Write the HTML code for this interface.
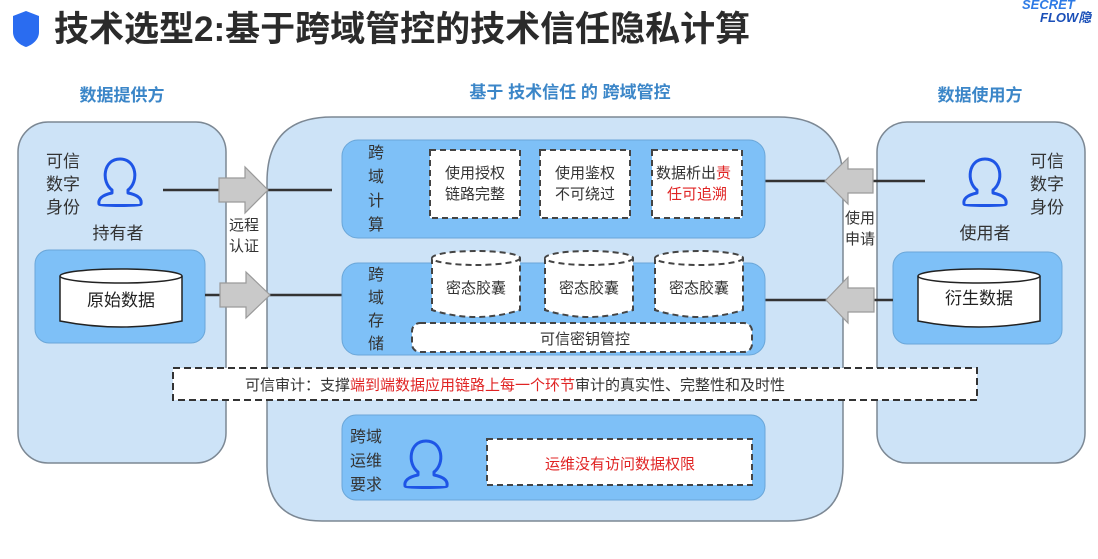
<!DOCTYPE html>
<html><head><meta charset="utf-8"><style>
html,body{margin:0;padding:0;background:#fff;width:1098px;height:559px;overflow:hidden}
svg text{font-family:"Liberation Sans","Noto Sans CJK SC",sans-serif}
</style></head><body>
<svg width="1098" height="559" viewBox="0 0 1098 559" xmlns="http://www.w3.org/2000/svg">
<defs>
<g id="person"><path d="M-8 7 C-19 -1 -17 -24 0 -24 C17 -24 19 -1 8 7 L8 10 C18 12 22 16 21 21 C21 23 -21 23 -21 21 C-22 16 -18 12 -8 10 Z" fill="none" stroke="#1e55e6" stroke-width="3" stroke-linejoin="round"/></g>
</defs>
<!-- title -->
<path d="M13 16 L26 11 L39 16 L39 32 C39 40 32 45 26 47 C20 45 13 40 13 32 Z" fill="#2a6cf0"/>
<text x="54" y="41" font-size="35" fill="#2b2b2b" font-weight="bold">技术选型2:基于跨域管控的技术信任隐私计算</text>
<text x="1022" y="9" font-size="13" fill="#2e7be6" font-style="italic" font-weight="bold">SECRET</text>
<text x="1040" y="22" font-size="13" fill="#1a4fb8" font-style="italic" font-weight="bold">FLOW隐</text>
<!-- headers -->
<text x="122" y="101" font-size="17" fill="#3b86c8" text-anchor="middle" font-weight="bold">数据提供方</text>
<text x="570" y="98" font-size="17" fill="#3b86c8" text-anchor="middle" font-weight="bold">基于 技术信任 的 跨域管控</text>
<text x="980" y="101" font-size="17" fill="#3b86c8" text-anchor="middle" font-weight="bold">数据使用方</text>
<!-- panels -->
<rect x="18" y="122" width="208" height="341" rx="30" fill="#cde3f7" stroke="#7c8894" stroke-width="1.5"/>
<rect x="877" y="122" width="208" height="341" rx="30" fill="#cde3f7" stroke="#7c8894" stroke-width="1.5"/>
<path d="M267 182 Q267 117 332 117 L778 117 Q843 117 843 182 L843 466 Q843 521 788 521 L322 521 Q267 521 267 466 Z" fill="#cde3f7" stroke="#7c8894" stroke-width="1.5"/>
<!-- left content -->
<text font-size="17" fill="#333"><tspan x="46" y="167">可信</tspan><tspan x="46" y="190">数字</tspan><tspan x="46" y="213">身份</tspan></text>
<use href="#person" x="120" y="183"/>
<text x="118" y="239" font-size="17" fill="#333" text-anchor="middle">持有者</text>
<rect x="35" y="250" width="170" height="93" rx="14" fill="#7ec0f7" stroke="#6aa6d8"/>
<path d="M60 276 L60 321 Q121 333 182 321 L182 276" fill="#fff" stroke="#222" stroke-width="1.5"/>
<ellipse cx="121" cy="276" rx="61" ry="7" fill="#fff" stroke="#222" stroke-width="1.5"/>
<text x="121" y="306" font-size="17" fill="#222" text-anchor="middle">原始数据</text>
<!-- right content -->
<text font-size="17" fill="#333"><tspan x="1030" y="167">可信</tspan><tspan x="1030" y="190">数字</tspan><tspan x="1030" y="213">身份</tspan></text>
<use href="#person" x="985" y="183"/>
<text x="985" y="239" font-size="17" fill="#333" text-anchor="middle">使用者</text>
<rect x="893" y="252" width="169" height="92" rx="14" fill="#7ec0f7" stroke="#6aa6d8"/>
<path d="M918 276 L918 321 Q979 333 1040 321 L1040 276" fill="#fff" stroke="#222" stroke-width="1.5"/>
<ellipse cx="979" cy="276" rx="61" ry="7" fill="#fff" stroke="#222" stroke-width="1.5"/>
<text x="979" y="304" font-size="17" fill="#222" text-anchor="middle">衍生数据</text>
<!-- lines -->
<g stroke="#333" stroke-width="2.5">
<line x1="163" y1="190" x2="332" y2="190"/>
<line x1="205" y1="295" x2="342" y2="295"/>
<line x1="765" y1="181" x2="925" y2="181"/>
<line x1="765" y1="300" x2="893" y2="300"/>
</g>
<!-- arrows -->
<g fill="#c9c9c9" stroke="#9a9a9a" stroke-width="1.2">
<path d="M219 178 L245 178 L245 167 L268 190 L245 213 L245 202 L219 202 Z"/>
<path d="M220 283 L246 283 L246 272 L270 295 L246 318 L246 307 L220 307 Z"/>
<path d="M873 169 L848 169 L848 158 L825 181 L848 204 L848 193 L873 193 Z"/>
<path d="M874 288 L848 288 L848 277 L826 300 L848 323 L848 312 L874 312 Z"/>
</g>
<text font-size="15" fill="#333"><tspan x="229" y="230">远程</tspan><tspan x="229" y="251">认证</tspan></text>
<text font-size="15" fill="#333"><tspan x="845" y="223">使用</tspan><tspan x="845" y="244">申请</tspan></text>
<!-- compute box -->
<rect x="342" y="140" width="423" height="98" rx="16" fill="#7ec0f7" stroke="#6aa6d8"/>
<text font-size="16" fill="#333"><tspan x="368" y="158">跨</tspan><tspan x="368" y="182">域</tspan><tspan x="368" y="206">计</tspan><tspan x="368" y="230">算</tspan></text>
<g fill="#fff" stroke="#444" stroke-width="2" stroke-dasharray="6,4">
<rect x="430" y="150" width="90" height="68"/>
<rect x="540" y="150" width="90" height="68"/>
<rect x="652" y="150" width="90" height="68"/>
</g>
<text font-size="15" fill="#333" text-anchor="middle"><tspan x="475" y="178">使用授权</tspan><tspan x="475" y="199">链路完整</tspan></text>
<text font-size="15" fill="#333" text-anchor="middle"><tspan x="585" y="178">使用鉴权</tspan><tspan x="585" y="199">不可绕过</tspan></text>
<text font-size="15" fill="#333"><tspan x="656" y="178">数据析出<tspan fill="#e02424">责</tspan></tspan><tspan x="667" y="199" fill="#e02424">任可追溯</tspan></text>
<!-- storage box -->
<rect x="342" y="263" width="423" height="92" rx="16" fill="#7ec0f7" stroke="#6aa6d8"/>
<text font-size="16" fill="#333"><tspan x="368" y="280">跨</tspan><tspan x="368" y="303">域</tspan><tspan x="368" y="326">存</tspan><tspan x="368" y="349">储</tspan></text>
<g fill="#fff" stroke="#444" stroke-width="2" stroke-dasharray="6,4">
<path d="M432 258 L432 310 Q476 324 520 310 L520 258"/><ellipse cx="476" cy="258" rx="44" ry="7"/>
<path d="M545 258 L545 310 Q589 324 633 310 L633 258"/><ellipse cx="589" cy="258" rx="44" ry="7"/>
<path d="M655 258 L655 310 Q699 324 743 310 L743 258"/><ellipse cx="699" cy="258" rx="44" ry="7"/>
<rect x="412" y="323" width="340" height="29" rx="8"/>
</g>
<g font-size="15" fill="#333" text-anchor="middle">
<text x="476" y="293">密态胶囊</text><text x="589" y="293">密态胶囊</text><text x="699" y="293">密态胶囊</text>
<text x="585" y="344">可信密钥管控</text>
</g>
<!-- audit -->
<rect x="173" y="368" width="804" height="32" fill="#fff" stroke="#333" stroke-width="2" stroke-dasharray="7,4"/>
<text x="245" y="390" font-size="15" fill="#333">可信审计：支撑<tspan fill="#e02424">端到端数据应用链路上每一个环节</tspan>审计的真实性、完整性和及时性</text>
<!-- ops -->
<rect x="342" y="415" width="423" height="85" rx="14" fill="#7ec0f7" stroke="#6aa6d8"/>
<text font-size="16" fill="#333"><tspan x="350" y="442">跨域</tspan><tspan x="350" y="466">运维</tspan><tspan x="350" y="490">要求</tspan></text>
<use href="#person" x="426" y="465"/>
<rect x="487" y="439" width="265" height="46" fill="#fff" stroke="#444" stroke-width="2" stroke-dasharray="6,4"/>
<text x="620" y="469" font-size="15" fill="#e02424" text-anchor="middle">运维没有访问数据权限</text>
</svg>
</body></html>
